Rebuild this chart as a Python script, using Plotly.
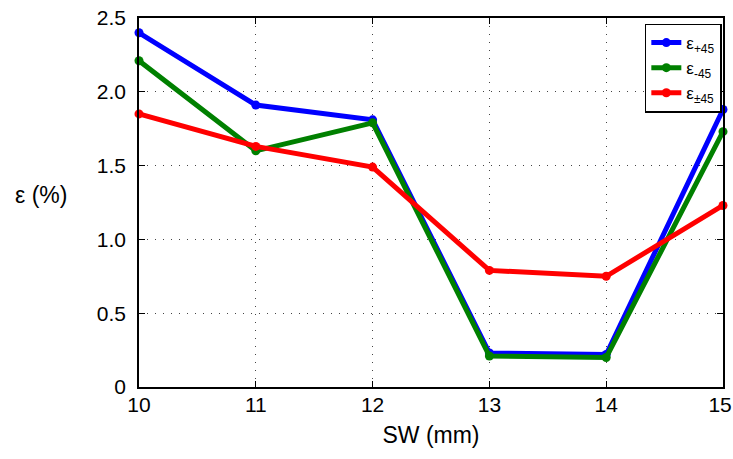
import plotly.graph_objects as go

sw = [10, 11, 12, 13, 14, 15]
sw_text = ["10", "11", "12", "13", "14", "15\u00a0"]
eps_p45 = [2.40, 1.91, 1.81, 0.23, 0.22, 1.88]
eps_m45 = [2.21, 1.60, 1.79, 0.21, 0.20, 1.73]
eps_pm45 = [1.85, 1.63, 1.49, 0.79, 0.75, 1.23]
ytick_vals = [0, 0.5, 1.0, 1.5, 2.0, 2.5]
ytick_text = ["0", "0.5", "1.0", "1.5", "2.0", "2.5"]

fig = go.Figure()
for name, vals, col in [
    ("ε<sub>+45</sub>", eps_p45, "#0000ff"),
    ("ε<sub>-45</sub>", eps_m45, "#008000"),
    ("ε<sub>±45</sub>", eps_pm45, "#ff0000"),
]:
    fig.add_trace(go.Scatter(x=sw, y=vals, mode="lines+markers", name=name,
                             line=dict(color=col, width=5),
                             marker=dict(color=col, size=9), cliponaxis=False))

axis_common = dict(showline=True, linecolor="black", linewidth=1.5, mirror="allticks",
                   ticks="inside", ticklen=6, tickcolor="black", tickwidth=1,
                   showgrid=True, gridcolor="#444444", griddash="1px,7px", gridwidth=1,
                   zeroline=False, tickfont=dict(size=21, color="black"),
                   ticklabeloverflow="allow")

W, H = 733, 459
fig.update_layout(
    width=W, height=H,
    margin=dict(l=139, r=10, t=18, b=H - 387, autoexpand=False),
    paper_bgcolor="white", plot_bgcolor="white",
    font=dict(family="Liberation Sans, Arial, sans-serif", color="black", size=20),
    xaxis=dict(range=[10, 15], tickvals=sw, ticktext=sw_text, ticklabelstandoff=-2,
               title=dict(text="SW (mm)", font=dict(size=23), standoff=12),
               **axis_common),
    yaxis=dict(range=[0, 2.5], tickvals=ytick_vals, ticktext=ytick_text, ticklabelstandoff=7,
               **axis_common),
    legend=dict(x=0.998, y=0.985, xanchor="right", yanchor="top",
                bordercolor="black", borderwidth=1.5, bgcolor="white",
                font=dict(size=17), tracegroupgap=0, itemwidth=30),
    annotations=[dict(text="ε (%)", xref="paper", yref="paper",
                      x=(41 - 139) / 584, y=(387 - 195) / 369,
                      xanchor="center", yanchor="middle",
                      showarrow=False, font=dict(size=23))],
)
fig.write_html("out.html", config={"displayModeBar": False},
               post_script="document.body.style.margin='0';document.body.style.overflow='hidden';")
